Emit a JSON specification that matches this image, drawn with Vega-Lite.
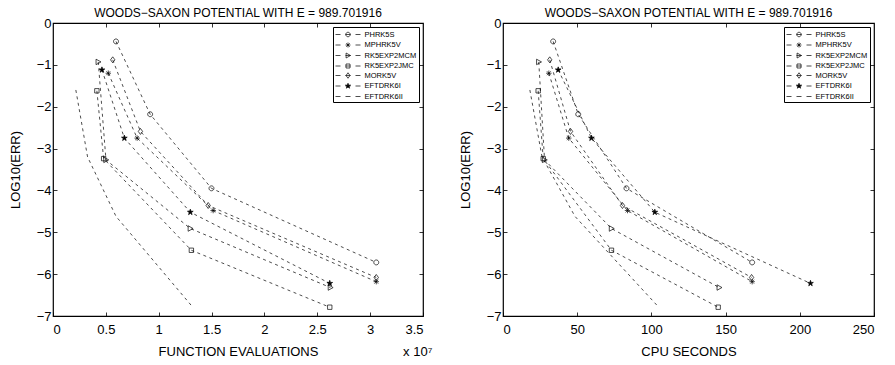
{
  "$schema": "https://vega.github.io/schema/vega-lite/v6.json",
  "padding": {"left": 8, "top": 6, "right": 5, "bottom": 1},
  "background": "white",
  "config": {
    "font": "Liberation Sans",
    "view": {"stroke": "black", "strokeWidth": 1.2},
    "axis": {"labelFontSize": 13, "titleFontSize": 13, "titleFontWeight": "normal", "labelColor": "black", "titleColor": "black", "grid": false, "domain": false, "tickColor": "black", "tickSize": -4, "tickWidth": 0.8, "labelFont": "Liberation Sans", "titleFont": "Liberation Sans"},
    "title": {"fontSize": 12, "fontWeight": "normal", "color": "black", "font": "Liberation Sans", "offset": -3},
    "legend": {
      "orient": "top-right", "offset": 4, "title": null,
      "strokeColor": "black", "fillColor": "white", "padding": 2,
      "labelFontSize": 7.5, "labelFont": "Liberation Sans", "labelColor": "black",
      "symbolSize": 100, "symbolStrokeWidth": 0.7, "symbolStrokeColor": "black", "symbolOpacity": 1,
      "symbolOffset": 7.5, "labelOffset": 11, "rowPadding": 0.5
    }
  },
  "datasets": {
    "err": [
      {"method": "PHRK5S", "step": 1, "fevals": 5960000, "cpu": 33.8, "logerr": -0.44},
      {"method": "PHRK5S", "step": 2, "fevals": 9190000, "cpu": 50.7, "logerr": -2.18},
      {"method": "PHRK5S", "step": 3, "fevals": 14990000, "cpu": 83.2, "logerr": -3.95},
      {"method": "PHRK5S", "step": 4, "fevals": 30580000, "cpu": 167.9, "logerr": -5.72},
      {"method": "MPHRK5V", "step": 1, "fevals": 5230000, "cpu": 30.9, "logerr": -1.2},
      {"method": "MPHRK5V", "step": 2, "fevals": 7960000, "cpu": 44.3, "logerr": -2.75},
      {"method": "MPHRK5V", "step": 3, "fevals": 15150000, "cpu": 83.9, "logerr": -4.48},
      {"method": "MPHRK5V", "step": 4, "fevals": 30580000, "cpu": 167.9, "logerr": -6.18},
      {"method": "RK5EXP2MCM", "step": 1, "fevals": 4280000, "cpu": 24.1, "logerr": -0.93},
      {"method": "RK5EXP2MCM", "step": 2, "fevals": 5010000, "cpu": 28.0, "logerr": -3.27},
      {"method": "RK5EXP2MCM", "step": 3, "fevals": 12990000, "cpu": 73.1, "logerr": -4.91},
      {"method": "RK5EXP2MCM", "step": 4, "fevals": 26240000, "cpu": 145.7, "logerr": -6.32},
      {"method": "RK5EXP2JMC", "step": 1, "fevals": 4150000, "cpu": 23.7, "logerr": -1.62},
      {"method": "RK5EXP2JMC", "step": 2, "fevals": 4790000, "cpu": 27.1, "logerr": -3.24},
      {"method": "RK5EXP2JMC", "step": 3, "fevals": 13090000, "cpu": 73.1, "logerr": -5.43},
      {"method": "RK5EXP2JMC", "step": 4, "fevals": 26180000, "cpu": 145.0, "logerr": -6.79},
      {"method": "MORK5V", "step": 1, "fevals": 5650000, "cpu": 31.5, "logerr": -0.88},
      {"method": "MORK5V", "step": 2, "fevals": 8270000, "cpu": 45.5, "logerr": -2.59},
      {"method": "MORK5V", "step": 3, "fevals": 14680000, "cpu": 80.5, "logerr": -4.36},
      {"method": "MORK5V", "step": 4, "fevals": 30580000, "cpu": 167.5, "logerr": -6.08},
      {"method": "EFTDRK6I", "step": 1, "fevals": 4630000, "cpu": 37.2, "logerr": -1.12},
      {"method": "EFTDRK6I", "step": 2, "fevals": 6750000, "cpu": 59.6, "logerr": -2.75},
      {"method": "EFTDRK6I", "step": 3, "fevals": 12990000, "cpu": 102.3, "logerr": -4.52},
      {"method": "EFTDRK6I", "step": 4, "fevals": 26180000, "cpu": 207.2, "logerr": -6.22},
      {"method": "EFTDRK6II", "step": 1, "fevals": 2160000, "cpu": 18.1, "logerr": -1.6},
      {"method": "EFTDRK6II", "step": 2, "fevals": 3270000, "cpu": 26.3, "logerr": -3.2},
      {"method": "EFTDRK6II", "step": 3, "fevals": 5960000, "cpu": 48.5, "logerr": -4.62},
      {"method": "EFTDRK6II", "step": 4, "fevals": 13090000, "cpu": 103.9, "logerr": -6.75}
    ]
  },
  "spacing": 25,
  "resolve": {"scale": {"shape": "independent", "fill": "independent", "x": "independent"}, "legend": {"shape": "independent", "fill": "independent"}},
  "hconcat": [
    {
      "width": 370,
      "height": 293,
      "title": "WOODS−SAXON POTENTIAL WITH E = 989.701916",
      "data": {"name": "err"},
      "resolve": {"axis": {"x": "independent", "y": "independent"}, "scale": {"shape": "independent", "fill": "independent"}},
      "layer": [
        {
          "mark": {"type": "line", "strokeDash": [3, 3.5], "strokeWidth": 0.7, "color": "black"},
          "encoding": {
            "x": {"field": "fevals", "type": "quantitative", "scale": {"domain": [0, 35000000], "nice": false},
              "axis": {"orient": "bottom", "values": [0, 5000000, 10000000, 15000000, 20000000, 25000000, 30000000, 35000000], "labelExpr": "format(datum.value / 10000000, '~g')", "title": "FUNCTION EVALUATIONS", "labelPadding": 11, "titlePadding": 9}},
            "y": {"field": "logerr", "type": "quantitative", "scale": {"domain": [-7, 0], "nice": false},
              "axis": {"orient": "left", "values": [-7, -6, -5, -4, -3, -2, -1, 0], "title": "LOG10(ERR)", "labelPadding": 6, "titlePadding": 14}},
            "detail": {"field": "method"},
            "order": {"field": "step"}
          }
        },
        {
          "transform": [{"filter": "datum.method !== 'EFTDRK6II'"}],
          "mark": {"type": "point", "color": "black", "strokeWidth": 0.7, "size": 30, "opacity": 1},
          "encoding": {
            "x": {"field": "fevals", "type": "quantitative", "axis": {"orient": "top", "labels": false, "title": null, "values": [5000000, 10000000, 15000000, 20000000, 25000000, 30000000]}},
            "y": {"field": "logerr", "type": "quantitative", "axis": {"orient": "right", "labels": false, "title": null, "values": [-6, -5, -4, -3, -2, -1]}},
            "fill": {"condition": {"test": "datum.method === 'EFTDRK6I'", "value": "black"}, "value": "transparent"},
            "shape": {
              "field": "method", "type": "nominal", "legend": null,
              "scale": {
                "domain": ["PHRK5S", "MPHRK5V", "RK5EXP2MCM", "RK5EXP2JMC", "MORK5V", "EFTDRK6I", "EFTDRK6II"],
                "range": [
                  "M0.9,0A0.9,0.9 0 1,1 -0.9,0A0.9,0.9 0 1,1 0.9,0Z",
                  "M0,-1V1M-1,0H1M-0.7,-0.7L0.7,0.7M-0.7,0.7L0.7,-0.7",
                  "M-0.8,-1L1,0L-0.8,1Z",
                  "M-0.8,-0.8H0.8V0.8H-0.8Z",
                  "M0,-1.1L0.8,0L0,1.1L-0.8,0Z",
                  "M0,-1.1L0.247,-0.34L1.046,-0.34L0.399,0.13L0.647,0.89L0,0.42L-0.647,0.89L-0.399,0.13L-1.046,-0.34L-0.247,-0.34Z",
                  "M0,0"
                ]
              }
            }
          }
        },
        {
          "transform": [{"filter": "false"}],
          "mark": {"type": "point", "filled": true, "stroke": "black", "strokeWidth": 0.7},
          "encoding": {
            "shape": {
              "field": "method", "type": "nominal",
              "scale": {
                "domain": ["PHRK5S", "MPHRK5V", "RK5EXP2MCM", "RK5EXP2JMC", "MORK5V", "EFTDRK6I", "EFTDRK6II"],
                "range": [
                  "M-2.5,0H-1.5M-0.5,0H0.5M1.5,0H2.5M0.45,0A0.45,0.45 0 1,1 -0.45,0A0.45,0.45 0 1,1 0.45,0Z",
                  "M-2.5,0H-1.5M-0.5,0H0.5M1.5,0H2.5M0,-0.5V0.5M-0.35,-0.35L0.35,0.35M-0.35,0.35L0.35,-0.35",
                  "M-2.5,0H-1.5M-0.5,0H0.5M1.5,0H2.5M-0.38,-0.5L0.5,0L-0.38,0.5Z",
                  "M-2.5,0H-1.5M-0.5,0H0.5M1.5,0H2.5M-0.4,-0.4H0.4V0.4H-0.4Z",
                  "M-2.5,0H-1.5M-0.5,0H0.5M1.5,0H2.5M0,-0.55L0.4,0L0,0.55L-0.4,0Z",
                  "M-2.5,0H-1.5M-0.5,0H0.5M1.5,0H2.5M0,-0.55L0.124,-0.17L0.523,-0.17L0.2,0.065L0.324,0.445L0,0.21L-0.324,0.445L-0.2,0.065L-0.523,-0.17L-0.124,-0.17Z",
                  "M-2.5,0H-1.5M-0.5,0H0.5M1.5,0H2.5"
                ]
              },
              "legend": {"title": null, "symbolStrokeColor": "black", "symbolStrokeWidth": 0.7, "encode": {"symbols": {"update": {"stroke": {"value": "black"}, "strokeWidth": {"value": 0.7}}}}}
            },
            "fill": {
              "field": "method", "type": "nominal",
              "scale": {
                "domain": ["PHRK5S", "MPHRK5V", "RK5EXP2MCM", "RK5EXP2JMC", "MORK5V", "EFTDRK6I", "EFTDRK6II"],
                "range": ["transparent", "transparent", "transparent", "transparent", "transparent", "black", "transparent"]
              },
              "legend": {"title": null, "symbolStrokeColor": "black", "symbolStrokeWidth": 0.7, "encode": {"symbols": {"update": {"stroke": {"value": "black"}, "strokeWidth": {"value": 0.7}}}}}
            }
          }
        },
        {
          "data": {"values": [{"label": "x 10⁷"}]},
          "mark": {"type": "text", "fontSize": 13, "color": "black", "dy": 36, "align": "center", "baseline": "middle"},
          "encoding": {
            "x": {"datum": 34500000, "type": "quantitative", "axis": null},
            "y": {"datum": -7, "type": "quantitative", "axis": null},
            "text": {"field": "label"}
          }
        }
      ]
    },
    {
      "width": 371,
      "height": 293,
      "title": "WOODS−SAXON POTENTIAL WITH E = 989.701916",
      "data": {"name": "err"},
      "resolve": {"axis": {"x": "independent", "y": "independent"}, "scale": {"shape": "independent", "fill": "independent"}},
      "layer": [
        {
          "mark": {"type": "line", "strokeDash": [3, 3.5], "strokeWidth": 0.7, "color": "black"},
          "encoding": {
            "x": {"field": "cpu", "type": "quantitative", "scale": {"domain": [0, 250], "nice": false},
              "axis": {"orient": "bottom", "values": [0, 50, 100, 150, 200, 250], "title": "CPU SECONDS", "labelPadding": 11, "titlePadding": 9}},
            "y": {"field": "logerr", "type": "quantitative", "scale": {"domain": [-7, 0], "nice": false},
              "axis": {"orient": "left", "values": [-7, -6, -5, -4, -3, -2, -1, 0], "title": "LOG10(ERR)", "labelPadding": 6, "titlePadding": 14}},
            "detail": {"field": "method"},
            "order": {"field": "step"}
          }
        },
        {
          "transform": [{"filter": "datum.method !== 'EFTDRK6II'"}],
          "mark": {"type": "point", "color": "black", "strokeWidth": 0.7, "size": 30, "opacity": 1},
          "encoding": {
            "x": {"field": "cpu", "type": "quantitative", "axis": {"orient": "top", "labels": false, "title": null, "values": [50, 100, 150, 200]}},
            "y": {"field": "logerr", "type": "quantitative", "axis": {"orient": "right", "labels": false, "title": null, "values": [-6, -5, -4, -3, -2, -1]}},
            "fill": {"condition": {"test": "datum.method === 'EFTDRK6I'", "value": "black"}, "value": "transparent"},
            "shape": {
              "field": "method", "type": "nominal", "legend": null,
              "scale": {
                "domain": ["PHRK5S", "MPHRK5V", "RK5EXP2MCM", "RK5EXP2JMC", "MORK5V", "EFTDRK6I", "EFTDRK6II"],
                "range": [
                  "M0.9,0A0.9,0.9 0 1,1 -0.9,0A0.9,0.9 0 1,1 0.9,0Z",
                  "M0,-1V1M-1,0H1M-0.7,-0.7L0.7,0.7M-0.7,0.7L0.7,-0.7",
                  "M-0.8,-1L1,0L-0.8,1Z",
                  "M-0.8,-0.8H0.8V0.8H-0.8Z",
                  "M0,-1.1L0.8,0L0,1.1L-0.8,0Z",
                  "M0,-1.1L0.247,-0.34L1.046,-0.34L0.399,0.13L0.647,0.89L0,0.42L-0.647,0.89L-0.399,0.13L-1.046,-0.34L-0.247,-0.34Z",
                  "M0,0"
                ]
              }
            }
          }
        },
        {
          "transform": [{"filter": "false"}],
          "mark": {"type": "point", "filled": true, "stroke": "black", "strokeWidth": 0.7},
          "encoding": {
            "shape": {
              "field": "method", "type": "nominal",
              "scale": {
                "domain": ["PHRK5S", "MPHRK5V", "RK5EXP2MCM", "RK5EXP2JMC", "MORK5V", "EFTDRK6I", "EFTDRK6II"],
                "range": [
                  "M-2.5,0H-1.5M-0.5,0H0.5M1.5,0H2.5M0.45,0A0.45,0.45 0 1,1 -0.45,0A0.45,0.45 0 1,1 0.45,0Z",
                  "M-2.5,0H-1.5M-0.5,0H0.5M1.5,0H2.5M0,-0.5V0.5M-0.35,-0.35L0.35,0.35M-0.35,0.35L0.35,-0.35",
                  "M-2.5,0H-1.5M-0.5,0H0.5M1.5,0H2.5M-0.38,-0.5L0.5,0L-0.38,0.5Z",
                  "M-2.5,0H-1.5M-0.5,0H0.5M1.5,0H2.5M-0.4,-0.4H0.4V0.4H-0.4Z",
                  "M-2.5,0H-1.5M-0.5,0H0.5M1.5,0H2.5M0,-0.55L0.4,0L0,0.55L-0.4,0Z",
                  "M-2.5,0H-1.5M-0.5,0H0.5M1.5,0H2.5M0,-0.55L0.124,-0.17L0.523,-0.17L0.2,0.065L0.324,0.445L0,0.21L-0.324,0.445L-0.2,0.065L-0.523,-0.17L-0.124,-0.17Z",
                  "M-2.5,0H-1.5M-0.5,0H0.5M1.5,0H2.5"
                ]
              },
              "legend": {"title": null, "symbolStrokeColor": "black", "symbolStrokeWidth": 0.7, "encode": {"symbols": {"update": {"stroke": {"value": "black"}, "strokeWidth": {"value": 0.7}}}}}
            },
            "fill": {
              "field": "method", "type": "nominal",
              "scale": {
                "domain": ["PHRK5S", "MPHRK5V", "RK5EXP2MCM", "RK5EXP2JMC", "MORK5V", "EFTDRK6I", "EFTDRK6II"],
                "range": ["transparent", "transparent", "transparent", "transparent", "transparent", "black", "transparent"]
              },
              "legend": {"title": null, "symbolStrokeColor": "black", "symbolStrokeWidth": 0.7, "encode": {"symbols": {"update": {"stroke": {"value": "black"}, "strokeWidth": {"value": 0.7}}}}}
            }
          }
        }
      ]
    }
  ]
}
